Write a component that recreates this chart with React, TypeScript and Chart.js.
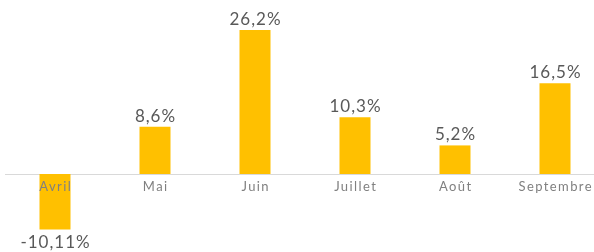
import React, { useEffect, useRef } from "react";
import { Chart, registerables } from "chart.js";

Chart.register(...registerables);

const categories = ["Avril", "Mai", "Juin", "Juillet", "Août", "Septembre"];
const values = [-10.11, 8.6, 26.2, 10.3, 5.2, 16.5];

const FONT = "Lato, 'DejaVu Sans', sans-serif";

const fmt = (v: number) => String(v).replace(".", ",") + "%";

const labelsPlugin = {
  id: "customLabels",
  beforeDatasetsDraw(chart: any) {
    const { ctx, chartArea, scales } = chart;
    const y0 = Math.round(scales.y.getPixelForValue(0)) + 0.5;
    ctx.save();
    ctx.strokeStyle = "#d9d9d9";
    ctx.lineWidth = 1;
    ctx.beginPath();
    ctx.moveTo(chartArea.left, y0);
    ctx.lineTo(chartArea.right, y0);
    ctx.stroke();
    ctx.restore();
  },
  afterDatasetsDraw(chart: any) {
    const { ctx, scales } = chart;
    const meta = chart.getDatasetMeta(0);
    const y0 = scales.y.getPixelForValue(0);
    ctx.save();
    ctx.textAlign = "center";
    meta.data.forEach((bar: any, i: number) => {
      const v = values[i];
      ctx.font = `13px ${FONT}`;
      (ctx as any).letterSpacing = "1.4px";
      ctx.fillStyle = "#808080";
      ctx.textBaseline = "middle";
      ctx.fillText(categories[i], bar.x + 0.7, y0 + 13);
      ctx.font = `17px ${FONT}`;
      (ctx as any).letterSpacing = "1px";
      ctx.fillStyle = "#595959";
      if (v >= 0) {
        ctx.textBaseline = "bottom";
        ctx.fillText(fmt(v), bar.x + 0.5, bar.y - 2);
      } else {
        ctx.textBaseline = "top";
        ctx.fillText(fmt(v), bar.x + 0.5, bar.y + 4);
      }
    });
    ctx.restore();
  },
};

export default function App() {
  const ref = useRef<HTMLCanvasElement>(null);
  useEffect(() => {
    if (!ref.current) return;
    const chart = new Chart(ref.current, {
      type: "bar",
      data: {
        labels: categories,
        datasets: [
          {
            data: values,
            backgroundColor: "#ffc000",
            borderWidth: 0,
            categoryPercentage: 1,
            barPercentage: 0.31,
          },
        ],
      },
      options: {
        animation: false,
        responsive: false,
        maintainAspectRatio: false,
        layout: { padding: 0 },
        plugins: { legend: { display: false }, tooltip: { enabled: false } },
        scales: {
          x: { display: false, offset: true, grid: { display: false } },
          y: { display: false, min: -14.18, max: 31.64 },
        },
      },
      plugins: [labelsPlugin],
    });
    return () => chart.destroy();
  }, []);
  return (
    <div style={{ position: "fixed", left: 0, top: 0, width: 594, height: 252, overflow: "hidden", background: "#fff" }}>
      <div style={{ position: "absolute", left: 4.5, top: 0, width: 600, height: 252 }}>
        <canvas ref={ref} width={600} height={252} style={{ display: "block", width: 600, height: 252 }} />
      </div>
    </div>
  );
}
